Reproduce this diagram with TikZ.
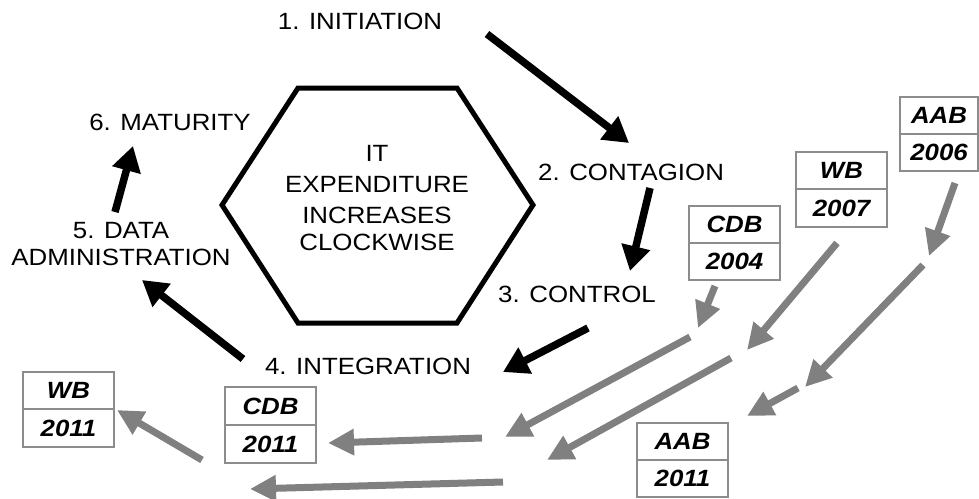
\documentclass[tikz,border=0pt]{standalone}
\usepackage{fontspec}
\setmainfont{Liberation Sans}[FakeStretch=1.1]
\usetikzlibrary{arrows.meta}
\definecolor{arrowgray}{HTML}{808080}
\definecolor{boxgray}{HTML}{8C8C8C}
\begin{document}
\begin{tikzpicture}[x=1pt,y=-1pt,
  lbl/.style={font=\fontsize{23.5}{27}\selectfont, inner sep=0pt, align=center},
  blackarrow/.style={line width=7.5pt, -{Triangle[length=25pt,width=28pt]}},
  grayarrow/.style={draw=arrowgray, line width=7pt, -{Triangle[length=26pt,width=25pt]}},
  cell/.style={draw=boxgray, line width=1.8pt, minimum width=91pt, minimum height=37.5pt,
    inner sep=0pt, font=\fontsize{23.5}{27}\selectfont\bfseries\itshape},
  hexline/.style={line width=5pt, line join=miter}]
\useasboundingbox (0,0) rectangle (979,498);

% hexagon
\draw[hexline] (298,88) -- (457,88) -- (533,205) -- (457,323) -- (298,323) -- (222,205) -- cycle;
\node[lbl] (centre) at (377,198.3) {IT\\[4pt]EXPENDITURE\\[4pt]INCREASES\\CLOCKWISE};

% stage labels
\node[lbl] (s1) at (360,21) {1. INITIATION};
\node[lbl] (s2) at (631,172) {2. CONTAGION};
\node[lbl] (s3) at (577,294) {3. CONTROL};
\node[lbl] (s4) at (368,366) {4. INTEGRATION};
\node[lbl] (s5) at (121,244.5) {5. DATA\\ADMINISTRATION};
\node[lbl] (s6) at (170,122) {6. MATURITY};

% black arrow ends
\coordinate (b1s) at (487,34);  \coordinate (b1e) at (629,143);
\coordinate (b2s) at (650,188); \coordinate (b2e) at (630,271);
\coordinate (b3s) at (588,328); \coordinate (b3e) at (503,372);
\coordinate (b4s) at (243,359); \coordinate (b4e) at (142,280);
\coordinate (b5s) at (115,212); \coordinate (b5e) at (133,146);
\draw[blackarrow] (b1s) -- (b1e);
\draw[blackarrow] (b2s) -- (b2e);
\draw[blackarrow] (b3s) -- (b3e);
\draw[blackarrow] (b4s) -- (b4e);
\draw[blackarrow] (b5s) -- (b5e);

% boxes
\node[cell, minimum width=78pt] (aab06t) at (939,115.5) {AAB};
\node[cell, minimum width=78pt] (aab06b) at (939,152.5) {2006};
\node[cell] (wb07t) at (841.5,170.5) {WB};
\node[cell] (wb07b) at (841.5,208) {2007};
\node[cell] (cdb04t) at (734.5,224.5) {CDB};
\node[cell] (cdb04b) at (734.5,261.5) {2004};
\node[cell] (wb11t) at (68.5,390.5) {WB};
\node[cell] (wb11b) at (68.5,428) {2011};
\node[cell] (cdb11t) at (270.5,406) {CDB};
\node[cell] (cdb11b) at (270.5,444) {2011};
\node[cell] (aab11t) at (682.5,441.5) {AAB};
\node[cell] (aab11b) at (682.5,478.5) {2011};

% gray arrow ends
\coordinate (ga1) at (715,286); \coordinate (ga2) at (698,328);
\coordinate (gb1) at (690,337); \coordinate (gb2) at (505,437);
\coordinate (gc1) at (837,243); \coordinate (gc2) at (747,350);
\coordinate (gd1) at (731,358); \coordinate (gd2) at (547,460);
\coordinate (ge1) at (955,183); \coordinate (ge2) at (929,256);
\coordinate (gf1) at (923,265); \coordinate (gf2) at (805,387);
\coordinate (gg1) at (798,388); \coordinate (gg2) at (747,416);
\coordinate (gh1) at (482,438); \coordinate (gh2) at (328,443);
\coordinate (gi1) at (503,482); \coordinate (gi2) at (250,489);
\coordinate (gj1) at (202,460); \coordinate (gj2) at (117,410);
\draw[grayarrow] (ga1) -- (ga2);
\draw[grayarrow] (gb1) -- (gb2);
\draw[grayarrow] (gc1) -- (gc2);
\draw[grayarrow] (gd1) -- (gd2);
\draw[grayarrow] (ge1) -- (ge2);
\draw[grayarrow] (gf1) -- (gf2);
\draw[grayarrow] (gg1) -- (gg2);
\draw[grayarrow] (gh1) -- (gh2);
\draw[grayarrow] (gi1) -- (gi2);
\draw[grayarrow] (gj1) -- (gj2);
\end{tikzpicture}
\end{document}
